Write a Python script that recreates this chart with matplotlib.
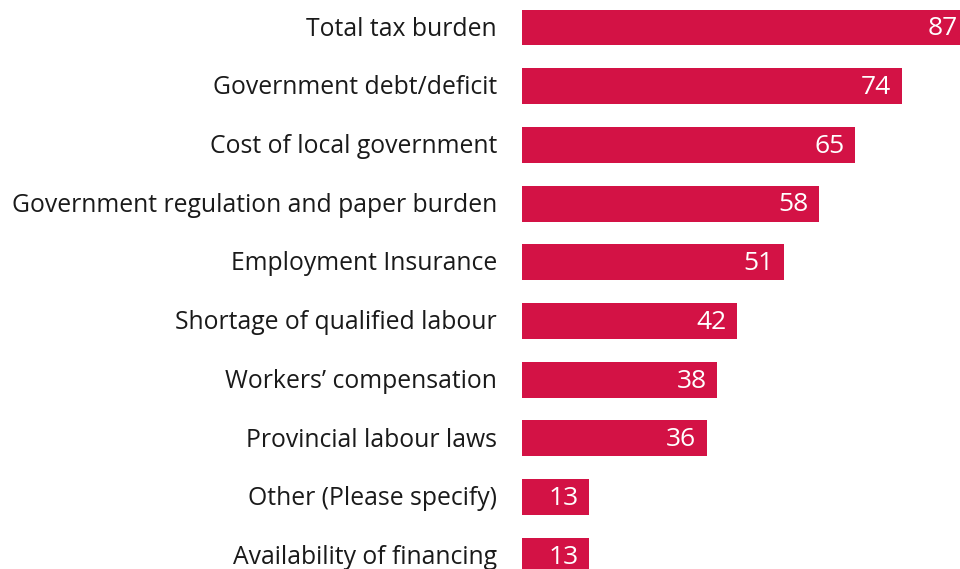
import matplotlib
matplotlib.use("Agg")
import matplotlib.pyplot as plt

categories = [
    "Total tax burden",
    "Government debt/deficit",
    "Cost of local government",
    "Government regulation and paper burden",
    "Employment Insurance",
    "Shortage of qualified labour",
    "Workers\u2019 compensation",
    "Provincial labour laws",
    "Other (Please specify)",
    "Availability of financing",
]
values = [87, 74, 65, 58, 51, 42, 38, 36, 13, 13]

bar_color = "#D31245"
plt.rcParams["font.family"] = ["Open Sans", "DejaVu Sans"]

fig = plt.figure(figsize=(9.6, 5.69), dpi=100)
ax = fig.add_axes([522 / 960, 0, 438 / 960, 1])

pos = list(range(len(categories)))
ax.barh(pos, values, height=0.61, color=bar_color)

ax.set_xlim(0, 85.4)
ax.set_ylim(9.225, -0.4685)

for y, v, name in zip(pos, values, categories):
    ax.annotate(str(v), xy=(v, y), xytext=(-7.5, -1), textcoords="offset points",
                ha="right", va="center", color="white", fontsize=19,
                annotation_clip=False)
    ax.annotate(name, xy=(0, y), xytext=(-18, -1.2), textcoords="offset points",
                ha="right", va="center", color="#1a1a1a", fontsize=17.8,
                annotation_clip=False)

ax.axis("off")
fig.savefig("out.png", dpi=100)
